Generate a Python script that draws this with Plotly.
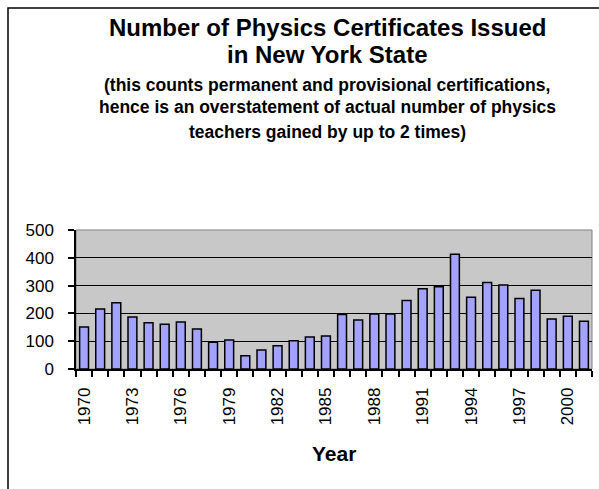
import plotly.graph_objects as go

years = list(range(1970, 2002))
certificates = [151, 216, 238, 187, 166, 161, 169, 144, 96, 104,
                48, 68, 84, 102, 115, 119, 196, 176, 198, 198,
                246, 289, 296, 413, 258, 311, 302, 254, 283, 180,
                190, 172]
tick_years = list(range(1970, 2002, 3))
y_ticks = [0, 100, 200, 300, 400, 500]

title_lines = ["Number of Physics Certificates Issued", "in New York State"]
subtitle_lines = ["(this counts permanent and provisional certifications,",
                  "hence is an overstatement of actual number of physics",
                  "teachers gained by up to 2 times)"]

W, H = 599, 489
ML, MR, MT, MB = 76, 7, 230, 120
PW = W - ML - MR
PH = H - MT - MB

def px_x(p):
    return (p - ML) / PW

def px_y(p):
    return (H - MB - p) / PH

FONT = "Liberation Sans, Arial, sans-serif"

fig = go.Figure()
fig.add_trace(go.Bar(
    x=years, y=certificates,
    marker=dict(color="#A3A3FF", line=dict(color="black", width=1.5)),
    width=0.55,
))

annotations = []
for text, yc, size in [(title_lines[0], 27, 24), (title_lines[1], 55, 24),
                       (subtitle_lines[0], 85, 17.5), (subtitle_lines[1], 107, 17.5),
                       (subtitle_lines[2], 132, 17.5)]:
    annotations.append(dict(
        text="<b>" + text + "</b>", x=px_x(327), y=px_y(yc), xref="paper", yref="paper",
        xanchor="center", yanchor="middle", showarrow=False,
        font=dict(family=FONT, size=size, color="black")))
annotations.append(dict(
    text="<b>Year</b>", x=px_x(334), y=px_y(453), xref="paper", yref="paper",
    xanchor="center", yanchor="middle", showarrow=False,
    font=dict(family=FONT, size=21, color="black")))

fig.update_layout(
    width=W, height=H,
    margin=dict(l=ML, r=MR, t=MT, b=MB, pad=0),
    paper_bgcolor="white", plot_bgcolor="#C8C8C8",
    showlegend=False,
    font=dict(family=FONT, size=17, color="black"),
    annotations=annotations,
    shapes=[
        dict(type="rect", xref="paper", yref="paper",
             x0=px_x(8), x1=px_x(W + 10), y0=px_y(H + 10), y1=px_y(8),
             line=dict(color="black", width=1.5), layer="below"),
        dict(type="rect", xref="paper", yref="paper",
             x0=0, x1=1, y0=0, y1=1,
             line=dict(color="#808080", width=1), layer="below"),
    ],
    bargap=0.45,
)

fig.update_xaxes(
    range=[1969.5, 2001.5],
    tickmode="array", tickvals=tick_years, ticktext=[str(y) for y in tick_years],
    tickangle=-90, ticks="", showgrid=False, zeroline=False,
    showline=True, linecolor="black", linewidth=1.5,
    tickfont=dict(family=FONT, size=17, color="black"),
    ticklabelstandoff=10,
    minor=dict(tickmode="linear", tick0=1969.5, dtick=1, ticks="outside",
               ticklen=6, tickcolor="black", tickwidth=1.5, showgrid=False),
)
fig.update_yaxes(
    range=[0, 500], tickmode="array", tickvals=y_ticks,
    ticks="outside", ticklen=6, tickcolor="black", tickwidth=1.5,
    showgrid=True, gridcolor="black", gridwidth=1, zeroline=False,
    showline=True, linecolor="black", linewidth=1.5,
    tickfont=dict(family=FONT, size=17, color="black"),
    ticklabelstandoff=11,
)

fig.write_html("out.html")
